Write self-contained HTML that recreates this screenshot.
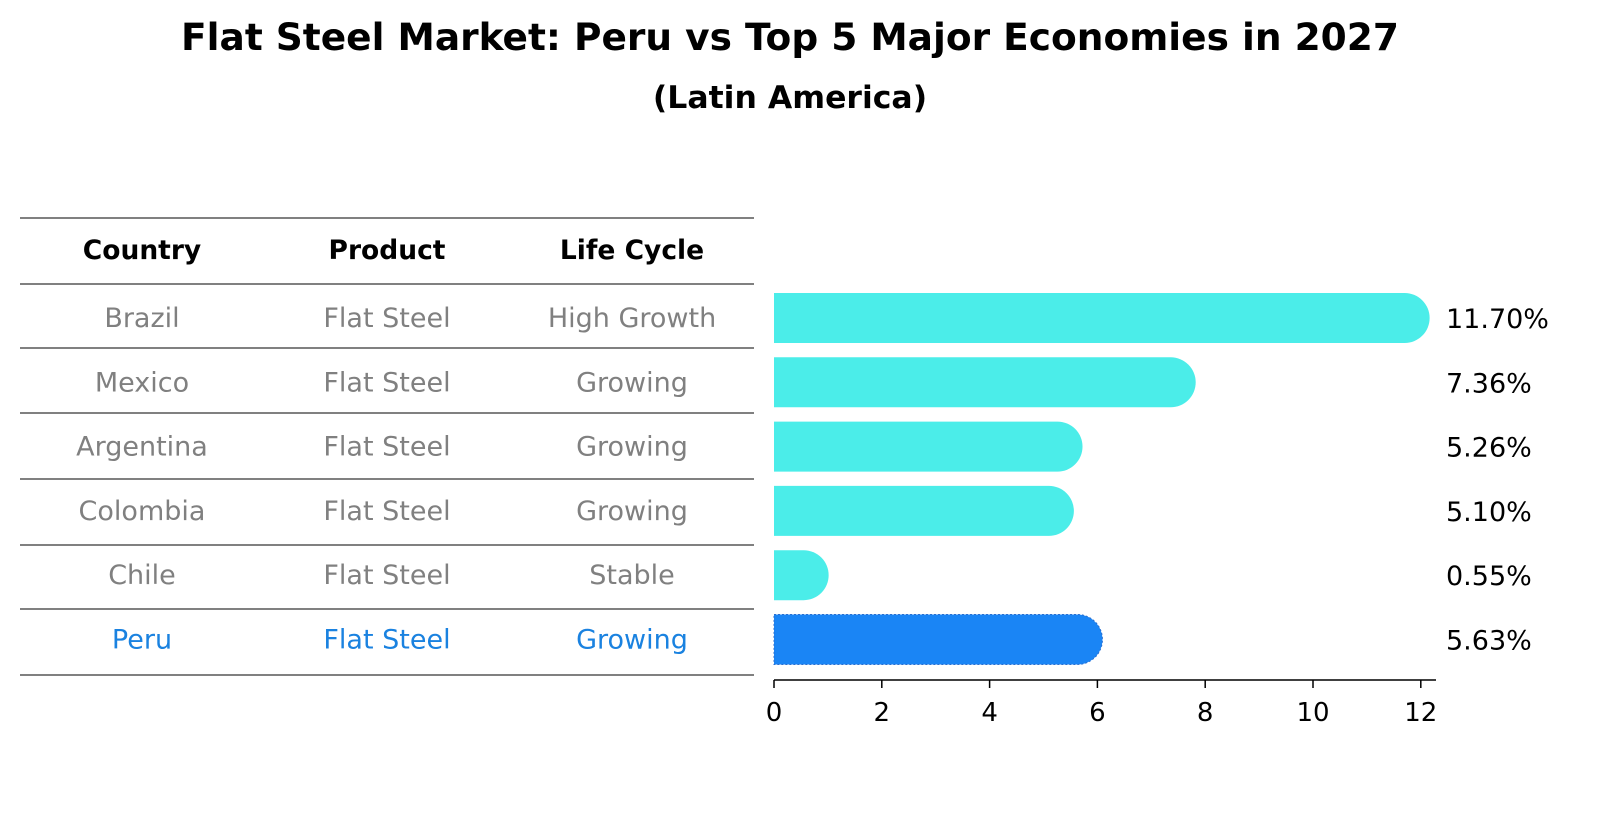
<!DOCTYPE html>
<html><head><meta charset="utf-8"><style>
body{margin:0;background:#fff;font-family:"Liberation Sans","DejaVu Sans",sans-serif}
</style></head><body>
<svg width="1604" height="823" xmlns="http://www.w3.org/2000/svg" font-family="DejaVu Sans, Liberation Sans, sans-serif">
<rect width="1604" height="823" fill="#fff"/>
<text x="790" y="50" text-anchor="middle" font-size="37.5" font-weight="bold">Flat Steel Market: Peru vs Top 5 Major Economies in 2027</text>
<text x="790" y="108" text-anchor="middle" font-size="31.5" font-weight="bold">(Latin America)</text>
<g id="table"></g>
<g id="bars"></g>
<g id="axis"></g>
</svg>
<script>
const countries=["Brazil","Mexico","Argentina","Colombia","Chile","Peru"];
const products=["Flat Steel","Flat Steel","Flat Steel","Flat Steel","Flat Steel","Flat Steel"];
const lifecycles=["High Growth","Growing","Growing","Growing","Stable","Growing"];
const values=[11.70,7.36,5.26,5.10,0.55,5.63];
const ticks=[0,2,4,6,8,10,12];
const NS="http://www.w3.org/2000/svg";
function mk(t,a,p,txt){const e=document.createElementNS(NS,t);for(const k in a)e.setAttribute(k,a[k]);if(txt!==undefined)e.textContent=txt;p.appendChild(e);return e;}
const x0=774,sc=53.9;const xs=v=>x0+v*sc;
const rowY=i=>318+i*64.3;
const tbl=document.getElementById('table'),bars=document.getElementById('bars'),ax=document.getElementById('axis');
const lines=[218,284,348,413,479,545,609,675];
lines.forEach((y,i)=>{const l=mk('line',{x1:20,x2:754,y1:y,y2:y,stroke:'#000','stroke-width':1},tbl);});
const colX=[142,387,632];
["Country","Product","Life Cycle"].forEach((h,j)=>{const t=mk('text',{x:colX[j],y:259,'text-anchor':'middle','font-size':26.5,'font-weight':'bold'},tbl,h);});
countries.forEach((c,i)=>{
 const col=i===countries.length-1?'#1a82e0':'#808080';
 [c,products[i],lifecycles[i]].forEach((s,j)=>{const t=mk('text',{x:colX[j],y:rowY(i)+9,'text-anchor':'middle','font-size':27,fill:col},tbl,s);});
 const r=25,yc=rowY(i),xe=xs(values[i]);
 const d=`M${x0},${yc-r} L${xe},${yc-r} A${r},${r} 0 0 1 ${xe},${yc+r} L${x0},${yc+r} Z`;
 const isP=i===countries.length-1;
 const p=mk('path',{d:d,fill:isP?'#1a85f5':'#4bede9',stroke:isP?'#2a6fd0':'none','stroke-dasharray':'2,2','stroke-width':1},bars);
 
 const t=mk('text',{x:1446,y:yc+10,'font-size':27},bars,values[i].toFixed(2)+'%');
 
});
const al=mk('line',{x1:x0,x2:1436,y1:680,y2:680,stroke:'#000','stroke-width':1.5},ax);

ticks.forEach(v=>{const l=mk('line',{x1:xs(v),x2:xs(v),y1:680,y2:688,stroke:'#000','stroke-width':1.5},ax);
 const t=mk('text',{x:xs(v),y:721,'text-anchor':'middle','font-size':26},ax,String(v));});
</script>
</body></html>
